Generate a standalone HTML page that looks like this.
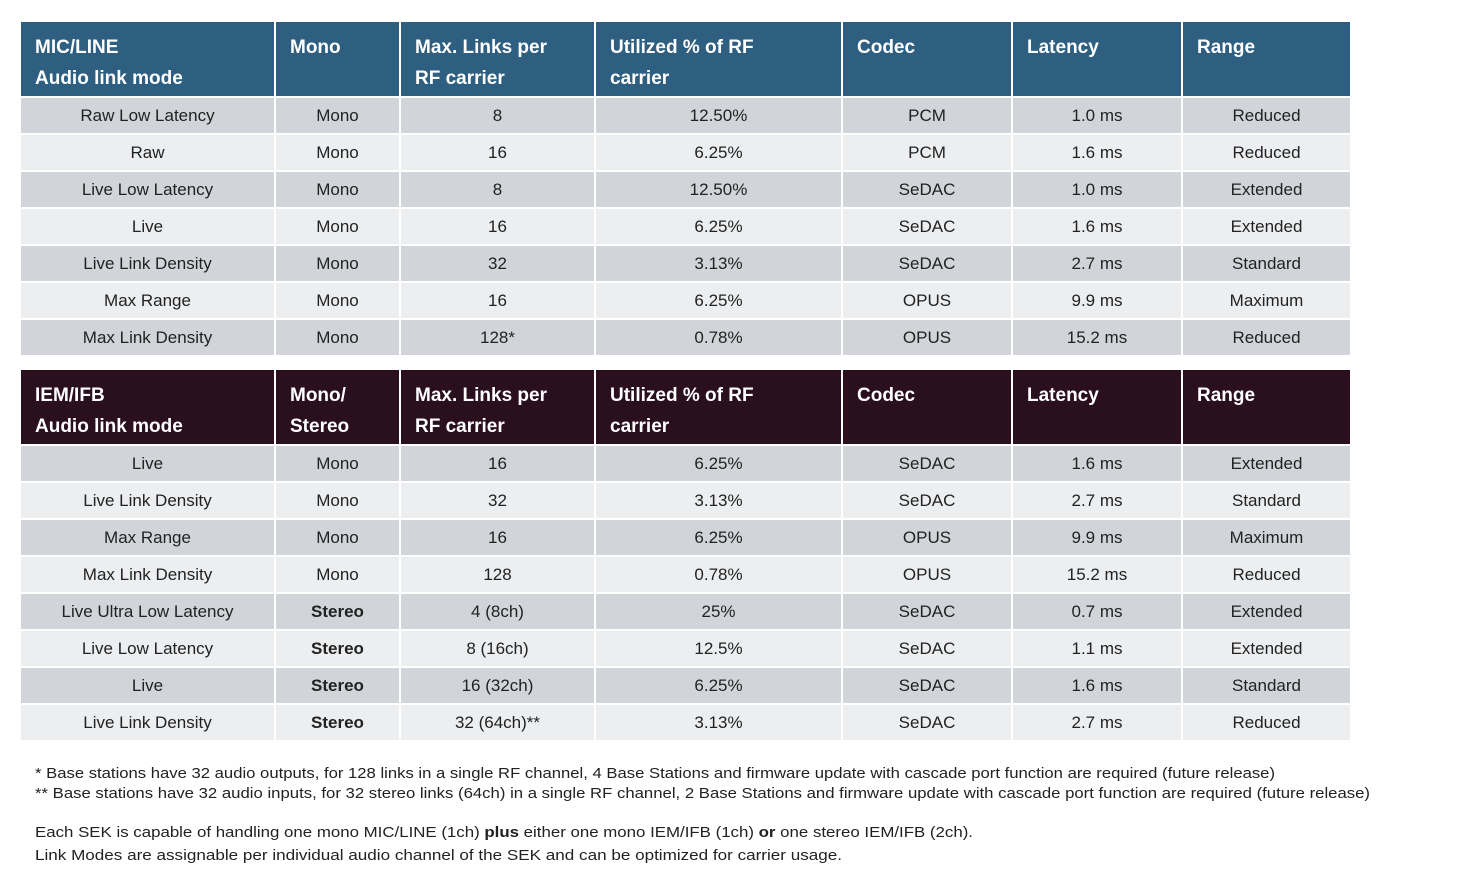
<!DOCTYPE html>
<html><head><meta charset="utf-8"><style>
html,body{margin:0;padding:0;background:#fff;width:1462px;height:882px;overflow:hidden;font-family:"Liberation Sans",sans-serif}
table{position:absolute;left:19px;border-collapse:separate;border-spacing:2px;table-layout:fixed}
td,th{padding:0;font-size:17px;color:#222;text-align:center;vertical-align:middle;height:35px}
th{height:74px;color:#fff;font-weight:bold;text-align:left;vertical-align:top;padding:10px 0 0 14px;box-sizing:border-box;line-height:31px;font-size:19px}
.b th{background:#2e5f80}
.p th{background:#2a0f1f}
tr.d td{background:#d1d4d9}
tr.l td{background:#eceef0}
b{font-weight:bold}
svg{position:absolute;left:0;top:0}
</style></head><body>
<table class="b" style="top:20px">
<colgroup><col style="width:253px"><col style="width:123px"><col style="width:193px"><col style="width:245px"><col style="width:168px"><col style="width:168px"><col style="width:167px"></colgroup>
<tr><th>MIC/LINE<br>Audio link mode</th><th>Mono</th><th>Max. Links per<br>RF carrier</th><th>Utilized % of RF<br>carrier</th><th>Codec</th><th>Latency</th><th>Range</th></tr>
<tr class="d"><td>Raw Low Latency</td><td>Mono</td><td>8</td><td>12.50%</td><td>PCM</td><td>1.0 ms</td><td>Reduced</td></tr>
<tr class="l"><td>Raw</td><td>Mono</td><td>16</td><td>6.25%</td><td>PCM</td><td>1.6 ms</td><td>Reduced</td></tr>
<tr class="d"><td>Live Low Latency</td><td>Mono</td><td>8</td><td>12.50%</td><td>SeDAC</td><td>1.0 ms</td><td>Extended</td></tr>
<tr class="l"><td>Live</td><td>Mono</td><td>16</td><td>6.25%</td><td>SeDAC</td><td>1.6 ms</td><td>Extended</td></tr>
<tr class="d"><td>Live Link Density</td><td>Mono</td><td>32</td><td>3.13%</td><td>SeDAC</td><td>2.7 ms</td><td>Standard</td></tr>
<tr class="l"><td>Max Range</td><td>Mono</td><td>16</td><td>6.25%</td><td>OPUS</td><td>9.9 ms</td><td>Maximum</td></tr>
<tr class="d"><td>Max Link Density</td><td>Mono</td><td>128*</td><td>0.78%</td><td>OPUS</td><td>15.2 ms</td><td>Reduced</td></tr>
</table>
<table class="p" style="top:368px">
<colgroup><col style="width:253px"><col style="width:123px"><col style="width:193px"><col style="width:245px"><col style="width:168px"><col style="width:168px"><col style="width:167px"></colgroup>
<tr><th>IEM/IFB<br>Audio link mode</th><th>Mono/<br>Stereo</th><th>Max. Links per<br>RF carrier</th><th>Utilized % of RF<br>carrier</th><th>Codec</th><th>Latency</th><th>Range</th></tr>
<tr class="d"><td>Live</td><td>Mono</td><td>16</td><td>6.25%</td><td>SeDAC</td><td>1.6 ms</td><td>Extended</td></tr>
<tr class="l"><td>Live Link Density</td><td>Mono</td><td>32</td><td>3.13%</td><td>SeDAC</td><td>2.7 ms</td><td>Standard</td></tr>
<tr class="d"><td>Max Range</td><td>Mono</td><td>16</td><td>6.25%</td><td>OPUS</td><td>9.9 ms</td><td>Maximum</td></tr>
<tr class="l"><td>Max Link Density</td><td>Mono</td><td>128</td><td>0.78%</td><td>OPUS</td><td>15.2 ms</td><td>Reduced</td></tr>
<tr class="d"><td>Live Ultra Low Latency</td><td><b>Stereo</b></td><td>4 (8ch)</td><td>25%</td><td>SeDAC</td><td>0.7 ms</td><td>Extended</td></tr>
<tr class="l"><td>Live Low Latency</td><td><b>Stereo</b></td><td>8 (16ch)</td><td>12.5%</td><td>SeDAC</td><td>1.1 ms</td><td>Extended</td></tr>
<tr class="d"><td>Live</td><td><b>Stereo</b></td><td>16 (32ch)</td><td>6.25%</td><td>SeDAC</td><td>1.6 ms</td><td>Standard</td></tr>
<tr class="l"><td>Live Link Density</td><td><b>Stereo</b></td><td>32 (64ch)**</td><td>3.13%</td><td>SeDAC</td><td>2.7 ms</td><td>Reduced</td></tr>
</table>
<svg width="1462" height="882" font-family="Liberation Sans, sans-serif" font-size="15" fill="#222">
<text x="35" y="778" textLength="1240" lengthAdjust="spacingAndGlyphs">* Base stations have 32 audio outputs, for 128 links in a single RF channel, 4 Base Stations and firmware update with cascade port function are required (future release)</text>
<text x="35" y="798" textLength="1335" lengthAdjust="spacingAndGlyphs">** Base stations have 32 audio inputs, for 32 stereo links (64ch) in a single RF channel, 2 Base Stations and firmware update with cascade port function are required (future release)</text>
<text x="35" y="837" textLength="938" lengthAdjust="spacingAndGlyphs">Each SEK is capable of handling one mono MIC/LINE (1ch) <tspan font-weight="bold">plus</tspan> either one mono IEM/IFB (1ch) <tspan font-weight="bold">or</tspan> one stereo IEM/IFB (2ch).</text>
<text x="35" y="860" textLength="807" lengthAdjust="spacingAndGlyphs">Link Modes are assignable per individual audio channel of the SEK and can be optimized for carrier usage.</text>
</svg>
</body></html>
